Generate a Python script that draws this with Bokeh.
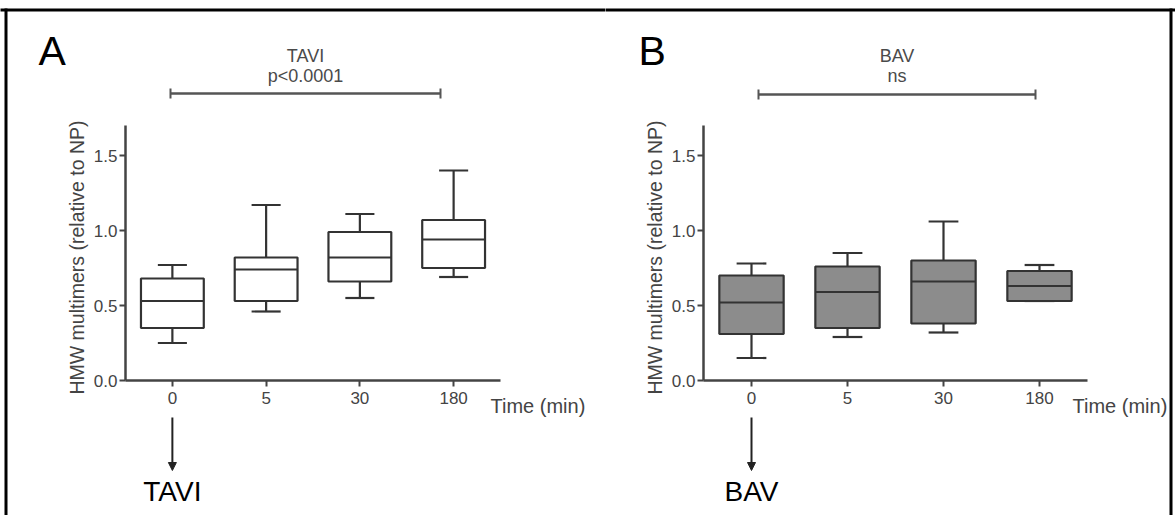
from bokeh.plotting import figure
from bokeh.layouts import row
from bokeh.models import (LinearAxis, FixedTicker, Range1d, ColumnDataSource,
                          Arrow, NormalHead, PrintfTickFormatter)
from bokeh.core.properties import value
from bokeh.embed import file_html
from bokeh.resources import INLINE
from math import pi

# ---- data -------------------------------------------------------------
times = ["0", "5", "30", "180"]
y_ticks = [0.0, 0.5, 1.0, 1.5]

tavi_lower = [0.25, 0.46, 0.55, 0.69]
tavi_q1 = [0.35, 0.53, 0.66, 0.75]
tavi_median = [0.53, 0.74, 0.82, 0.94]
tavi_q3 = [0.68, 0.82, 0.99, 1.07]
tavi_upper = [0.77, 1.17, 1.11, 1.40]

bav_lower = [0.15, 0.29, 0.32, 0.53]
bav_q1 = [0.31, 0.35, 0.38, 0.53]
bav_median = [0.52, 0.59, 0.66, 0.63]
bav_q3 = [0.70, 0.76, 0.80, 0.73]
bav_upper = [0.78, 0.85, 1.06, 0.77]

FONT = "Liberation Sans"
PAGE_H = 515
LINE = "#333333"
TEXT = "#444444"


def panel(letter, group, stat, stats, fill, left, width, ax0, ax1,
          bracket, time_x, border_left, border_right):
    lower, q1, med, q3, upper = stats
    # x: categories at 0..3, axis spans -0.5..3.5 between pixel ax0 and ax1
    ux = (ax1 - ax0) / 4.0
    xs = -0.5 - (ax0 - left) / ux
    xe = xs + width / ux
    # y: 0 at pixel row 380, 1.7 at row 125
    uy = (380 - 125) / 1.7
    ys = -(PAGE_H - 380) / uy
    ye = 380 / uy

    p = figure(width=width, height=PAGE_H, title=None,
               x_range=Range1d(xs, xe), y_range=Range1d(ys, ye),
               x_axis_location=None, y_axis_location=None,
               output_backend="svg", toolbar_location=None,
               min_border=0, outline_line_color=None,
               background_fill_color="white", border_fill_color="white")
    p.grid.visible = False
    # page-pixel coordinates for the surrounding decorations
    p.extra_x_ranges = {"px": Range1d(left, left + width)}
    p.extra_y_ranges = {"px": Range1d(PAGE_H, 0)}
    px = dict(x_range_name="px", y_range_name="px")

    xpos = list(range(len(times)))
    src = ColumnDataSource(dict(
        x=xpos, lower=lower, q1=q1, med=med, q3=q3, upper=upper,
        bl=[x - 0.335 for x in xpos], br=[x + 0.335 for x in xpos],
        cl=[x - 0.155 for x in xpos], cr=[x + 0.155 for x in xpos]))

    # whiskers and caps
    p.segment(x0="x", x1="x", y0="q3", y1="upper", source=src,
              line_color=LINE, line_width=2.2)
    p.segment(x0="x", x1="x", y0="lower", y1="q1", source=src,
              line_color=LINE, line_width=2.2)
    p.segment(x0="cl", x1="cr", y0="upper", y1="upper", source=src,
              line_color=LINE, line_width=2.2)
    p.segment(x0="cl", x1="cr", y0="lower", y1="lower", source=src,
              line_color=LINE, line_width=2.2)
    # boxes and medians
    p.vbar(x="x", width=0.67, bottom="q1", top="q3", source=src,
           fill_color=fill, line_color=LINE, line_width=2.2)
    p.segment(x0="bl", x1="br", y0="med", y1="med", source=src,
              line_color=LINE, line_width=2.2)

    # axes drawn inside the frame
    yaxis = LinearAxis(fixed_location=-0.5, bounds=(0, 1.7),
                       ticker=FixedTicker(ticks=y_ticks),
                       formatter=PrintfTickFormatter(format="%.1f"))
    xaxis = LinearAxis(fixed_location=0, bounds=(-0.5, 3.5),
                       ticker=FixedTicker(ticks=xpos),
                       major_label_overrides={i: t for i, t in enumerate(times)})
    for ax in (xaxis, yaxis):
        ax.axis_line_color = "#444444"
        ax.axis_line_width = 2.5
        ax.major_tick_line_color = "#444444"
        ax.major_tick_line_width = 2
        ax.major_tick_in = 0
        ax.major_tick_out = 6
        ax.minor_tick_line_color = None
        ax.major_label_text_font = FONT
        ax.major_label_text_font_size = "17px"
        ax.major_label_text_color = TEXT
    yaxis.major_label_standoff = 2
    xaxis.major_label_standoff = 5
    p.add_layout(yaxis, "left")
    p.add_layout(xaxis, "below")

    # y axis title
    p.text(x=[ax0 - 49], y=[257], text=["HMW multimers (relative to NP)"],
           angle=pi / 2, text_align="center", text_baseline="middle",
           text_font=value(FONT), text_font_size="19.5px", text_color=TEXT,
           **px)
    # x axis title
    p.text(x=[time_x], y=[405], text=["Time (min)"], text_align="left",
           text_baseline="middle", text_font=value(FONT),
           text_font_size="20px", text_color=TEXT, **px)

    # panel letter
    p.text(x=[38 if border_left else 638], y=[50], text=[letter],
           text_align="left", text_baseline="middle", text_font=value(FONT),
           text_font_size="41px", text_color="black", **px)

    # group heading, statistic and bracket
    bx0, bx1, by = bracket
    mid = (bx0 + bx1) / 2
    p.text(x=[mid], y=[55], text=[group], text_align="center",
           text_baseline="middle", text_font=value(FONT),
           text_font_size="18px", text_color="#4a4a4a", **px)
    p.text(x=[mid], y=[75], text=[stat], text_align="center",
           text_baseline="middle", text_font=value(FONT),
           text_font_size="18px", text_color="#4a4a4a", **px)
    p.segment(x0=[bx0], x1=[bx1], y0=[by], y1=[by], line_color="#555555",
              line_width=2.5, **px)
    p.segment(x0=[bx0, bx1], x1=[bx0, bx1], y0=[by - 5, by - 5],
              y1=[by + 5, by + 5], line_color="#555555", line_width=2, **px)

    # intervention arrow and label under time 0
    p.add_layout(Arrow(x_start=0, x_end=0, y_start=417, y_end=470,
                       y_range_name="px", line_color="#222222", line_width=2,
                       end=NormalHead(size=8, fill_color="#222222",
                                      line_color="#222222")))
    p.text(x=[0], y=[491], text=[group], text_align="center",
           text_baseline="middle", text_font=value(FONT),
           text_font_size="28px", text_color="black", y_range_name="px")

    # outer frame
    p.segment(x0=[left - 3], x1=[left + width + 3], y0=[9.5], y1=[9.5],
              line_color="black", line_width=3, **px)
    if border_left:
        p.segment(x0=[5.5], x1=[5.5], y0=[8], y1=[PAGE_H],
                  line_color="black", line_width=3, **px)
    if border_right:
        p.segment(x0=[1170.5], x1=[1170.5], y0=[8], y1=[PAGE_H],
                  line_color="black", line_width=3, **px)
    return p


pa = panel("A", "TAVI", "p<0.0001",
           (tavi_lower, tavi_q1, tavi_median, tavi_q3, tavi_upper),
           "white", 0, 605, 125, 500, (170, 440, 93), 490, True, False)
pb = panel("B", "BAV", "ns",
           (bav_lower, bav_q1, bav_median, bav_q3, bav_upper),
           "#8c8c8c", 605, 570, 703, 1087, (758, 1035, 94), 1072, False, True)

layout = row(pa, pb, spacing=0)
open("out.html", "w").write(file_html(layout, INLINE))
